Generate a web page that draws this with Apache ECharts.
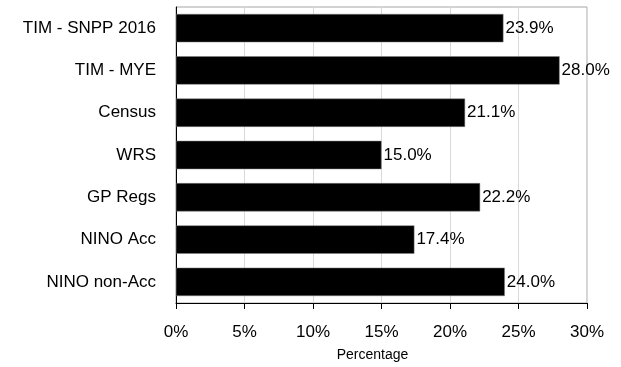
<!DOCTYPE html>
<html>
<head>
<meta charset="utf-8">
<script src="https://cdn.jsdelivr.net/npm/echarts@6/dist/echarts.min.js"></script>
<style>
  html, body { margin: 0; padding: 0; background: #fff; }
  #chart { width: 621px; height: 367px; }
</style>
</head>
<body>
<div id="chart"></div>
<script>
// Share of population by data source
const categories = ['TIM - SNPP 2016', 'TIM - MYE', 'Census', 'WRS', 'GP Regs', 'NINO Acc', 'NINO non-Acc'];
const values = [23.9, 28.0, 21.1, 15.0, 22.2, 17.4, 24.0];
const xTicks = [0, 5, 10, 15, 20, 25, 30];

const font = 'Liberation Sans, Arial, sans-serif';
const chart = echarts.init(document.getElementById('chart'));

chart.setOption({
  animation: false,
  grid: {
    left: 176, right: 34, top: 7, bottom: 59,
    show: true, borderColor: '#a6a6a6', borderWidth: 1
  },
  xAxis: {
    type: 'value',
    min: xTicks[0],
    max: xTicks[xTicks.length - 1],
    interval: xTicks[1] - xTicks[0],
    name: 'Percentage',
    nameLocation: 'middle',
    nameGap: 45,
    nameTextStyle: { fontFamily: font, fontSize: 14, color: '#000', padding: [0, 18, 0, 0] },
    axisLine: { show: true, lineStyle: { color: '#000', width: 1 } },
    axisTick: { show: true, length: 6, lineStyle: { color: '#000' } },
    axisLabel: {
      fontFamily: font, fontSize: 17, color: '#000', margin: 21,
      formatter: v => v + '%'
    },
    splitLine: { show: true, lineStyle: { color: '#d9d9d9', width: 1 } }
  },
  yAxis: {
    type: 'category',
    data: categories,
    inverse: true,
    axisLine: { show: true, lineStyle: { color: '#000', width: 1 } },
    axisTick: { show: false },
    axisLabel: { fontFamily: font, fontSize: 17, color: '#000', margin: 20 },
    splitLine: { show: false }
  },
  series: [{
    type: 'bar',
    data: values,
    barCategoryGap: '33%',
    itemStyle: { color: '#000', borderColor: '#7f7f7f', borderWidth: 0.5 },
    label: {
      show: true,
      position: 'right',
      distance: 2,
      fontFamily: font,
      fontSize: 17,
      color: '#000',
      formatter: p => p.value.toFixed(1) + '%'
    }
  }]
});
</script>
</body>
</html>
